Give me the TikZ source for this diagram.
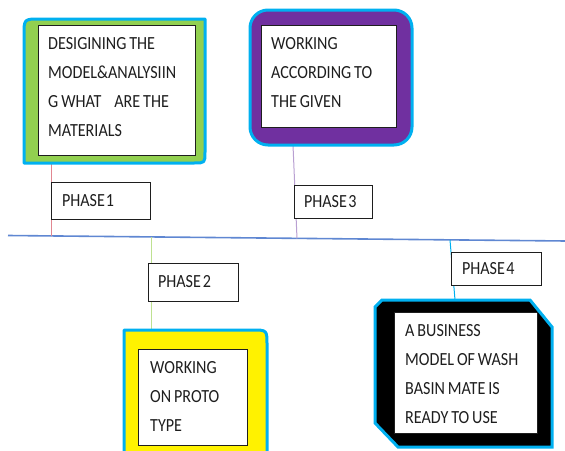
\documentclass[tikz,border=0pt]{standalone}
\usepackage{fontspec}
\newfontfamily\labfont[FakeStretch=0.87,WordSpace=0.8]{Carlito}
\definecolor{rimblue}{HTML}{00B0F0}
\definecolor{leafgreen}{HTML}{92D050}
\definecolor{deeppurple}{HTML}{7030A0}
\definecolor{axisblue}{RGB}{95,135,210}
\definecolor{tickred}{RGB}{225,135,145}
\definecolor{tickgreen}{RGB}{190,225,145}
\definecolor{tickpurple}{RGB}{185,160,210}
\definecolor{inkgray}{RGB}{30,30,30}
\tikzset{
  rim/.style={draw=rimblue, line width=3pt, line join=round},
  innerbox/.style={draw=inkgray, line width=0.8pt, fill=white, inner sep=0pt, outer sep=0pt},
  bodytext/.style={font=\labfont\fontsize{18.5}{29}\selectfont, text=inkgray, align=left, inner sep=0pt, anchor=north west},
  phasebox/.style={draw=inkgray, line width=0.8pt, fill=white, font=\labfont\fontsize{18.5}{22}\selectfont, text=inkgray, align=left, anchor=north west, inner ysep=0pt, outer sep=0pt},
  tick/.style={line width=1pt}
}
\begin{document}
\begin{tikzpicture}[x=1pt,y=-1pt]
\useasboundingbox (0,0) rectangle (565,450);
\clip (0,0) rectangle (565,450);
% axis
\coordinate (axL) at (8,235.5);
\coordinate (axR) at (566,241);
\draw[axisblue, line width=1.6pt] (axL) -- (axR);
% connector coordinates
\coordinate (g1) at (51,163);   \coordinate (a1) at (51,236);
\coordinate (g2) at (151,237);  \coordinate (a2) at (151,330);
\coordinate (g3) at (293,145);  \coordinate (a3) at (297,238.5);
\coordinate (g4) at (450,240);  \coordinate (a4) at (455,300);
\draw[tick, tickred] (g1) -- (a1);
\draw[tick, tickgreen] (g2) -- (a2);
\draw[tick, tickpurple] (g3) -- (a3);
\draw[tick, rimblue] (g4) -- (a4);
% outer shapes
\draw[rim, fill=leafgreen] (24,163) -- (24,35) .. controls (24,19) .. (40,19) -- (205,19) -- (205,152) .. controls (205,163) .. (194,163) -- cycle;
\draw[rim, fill=deeppurple, rounded corners=18pt] (250,10) rectangle (412,145);
\draw[rim, fill=yellow] (124,460) -- (124,330) -- (252,330) .. controls (267,330) .. (267,345) -- (267,460);
\draw[rim, line join=miter, fill=black] (375,307) -- (382,300) -- (530,300) -- (552,327) -- (552,447) -- (398,447) -- (375,423) -- cycle;
% inner boxes
\node[innerbox, minimum width=157, minimum height=130] (b1) at (116.5,90) {};
\node[innerbox, minimum width=135, minimum height=102] (b3) at (328.5,76) {};
\node[innerbox, minimum width=109, minimum height=96] (b2) at (192.5,397) {};
\node[innerbox, minimum width=143, minimum height=121] (b4) at (465.5,372.5) {};
% texts
\node[bodytext] (t1) at (48,37) {DESIGINING THE\\MODEL\&ANALYSIIN\\G WHAT\hspace{10pt} ARE THE\\MATERIALS};
\node[bodytext] (t3) at (271,37) {WORKING\\ACCORDING TO\\THE GIVEN};
\node[bodytext] (t2) at (150,361) {WORKING\\ON PROTO\\TYPE};
\node[bodytext] (t4) at (405,324) {A BUSINESS\\MODEL OF WASH\\BASIN MATE IS\\READY TO USE};
% phase labels
\node[phasebox, minimum width=99, minimum height=37, inner xsep=11pt, text width=77pt] (p1) at (51,182) {PHASE\hspace{1pt}1};
\node[phasebox, minimum width=90, minimum height=38, inner xsep=10pt, text width=70pt] (p2) at (148,263) {PHASE\hspace{2pt}2};
\node[phasebox, minimum width=78, minimum height=33, inner xsep=10pt, text width=58pt] (p3) at (294,185) {PHASE\hspace{1.5pt}3};
\node[phasebox, minimum width=90, minimum height=33, inner xsep=11pt, text width=68pt] (p4) at (451,252) {PHASE\hspace{1.5pt}4};
\end{tikzpicture}
\end{document}
